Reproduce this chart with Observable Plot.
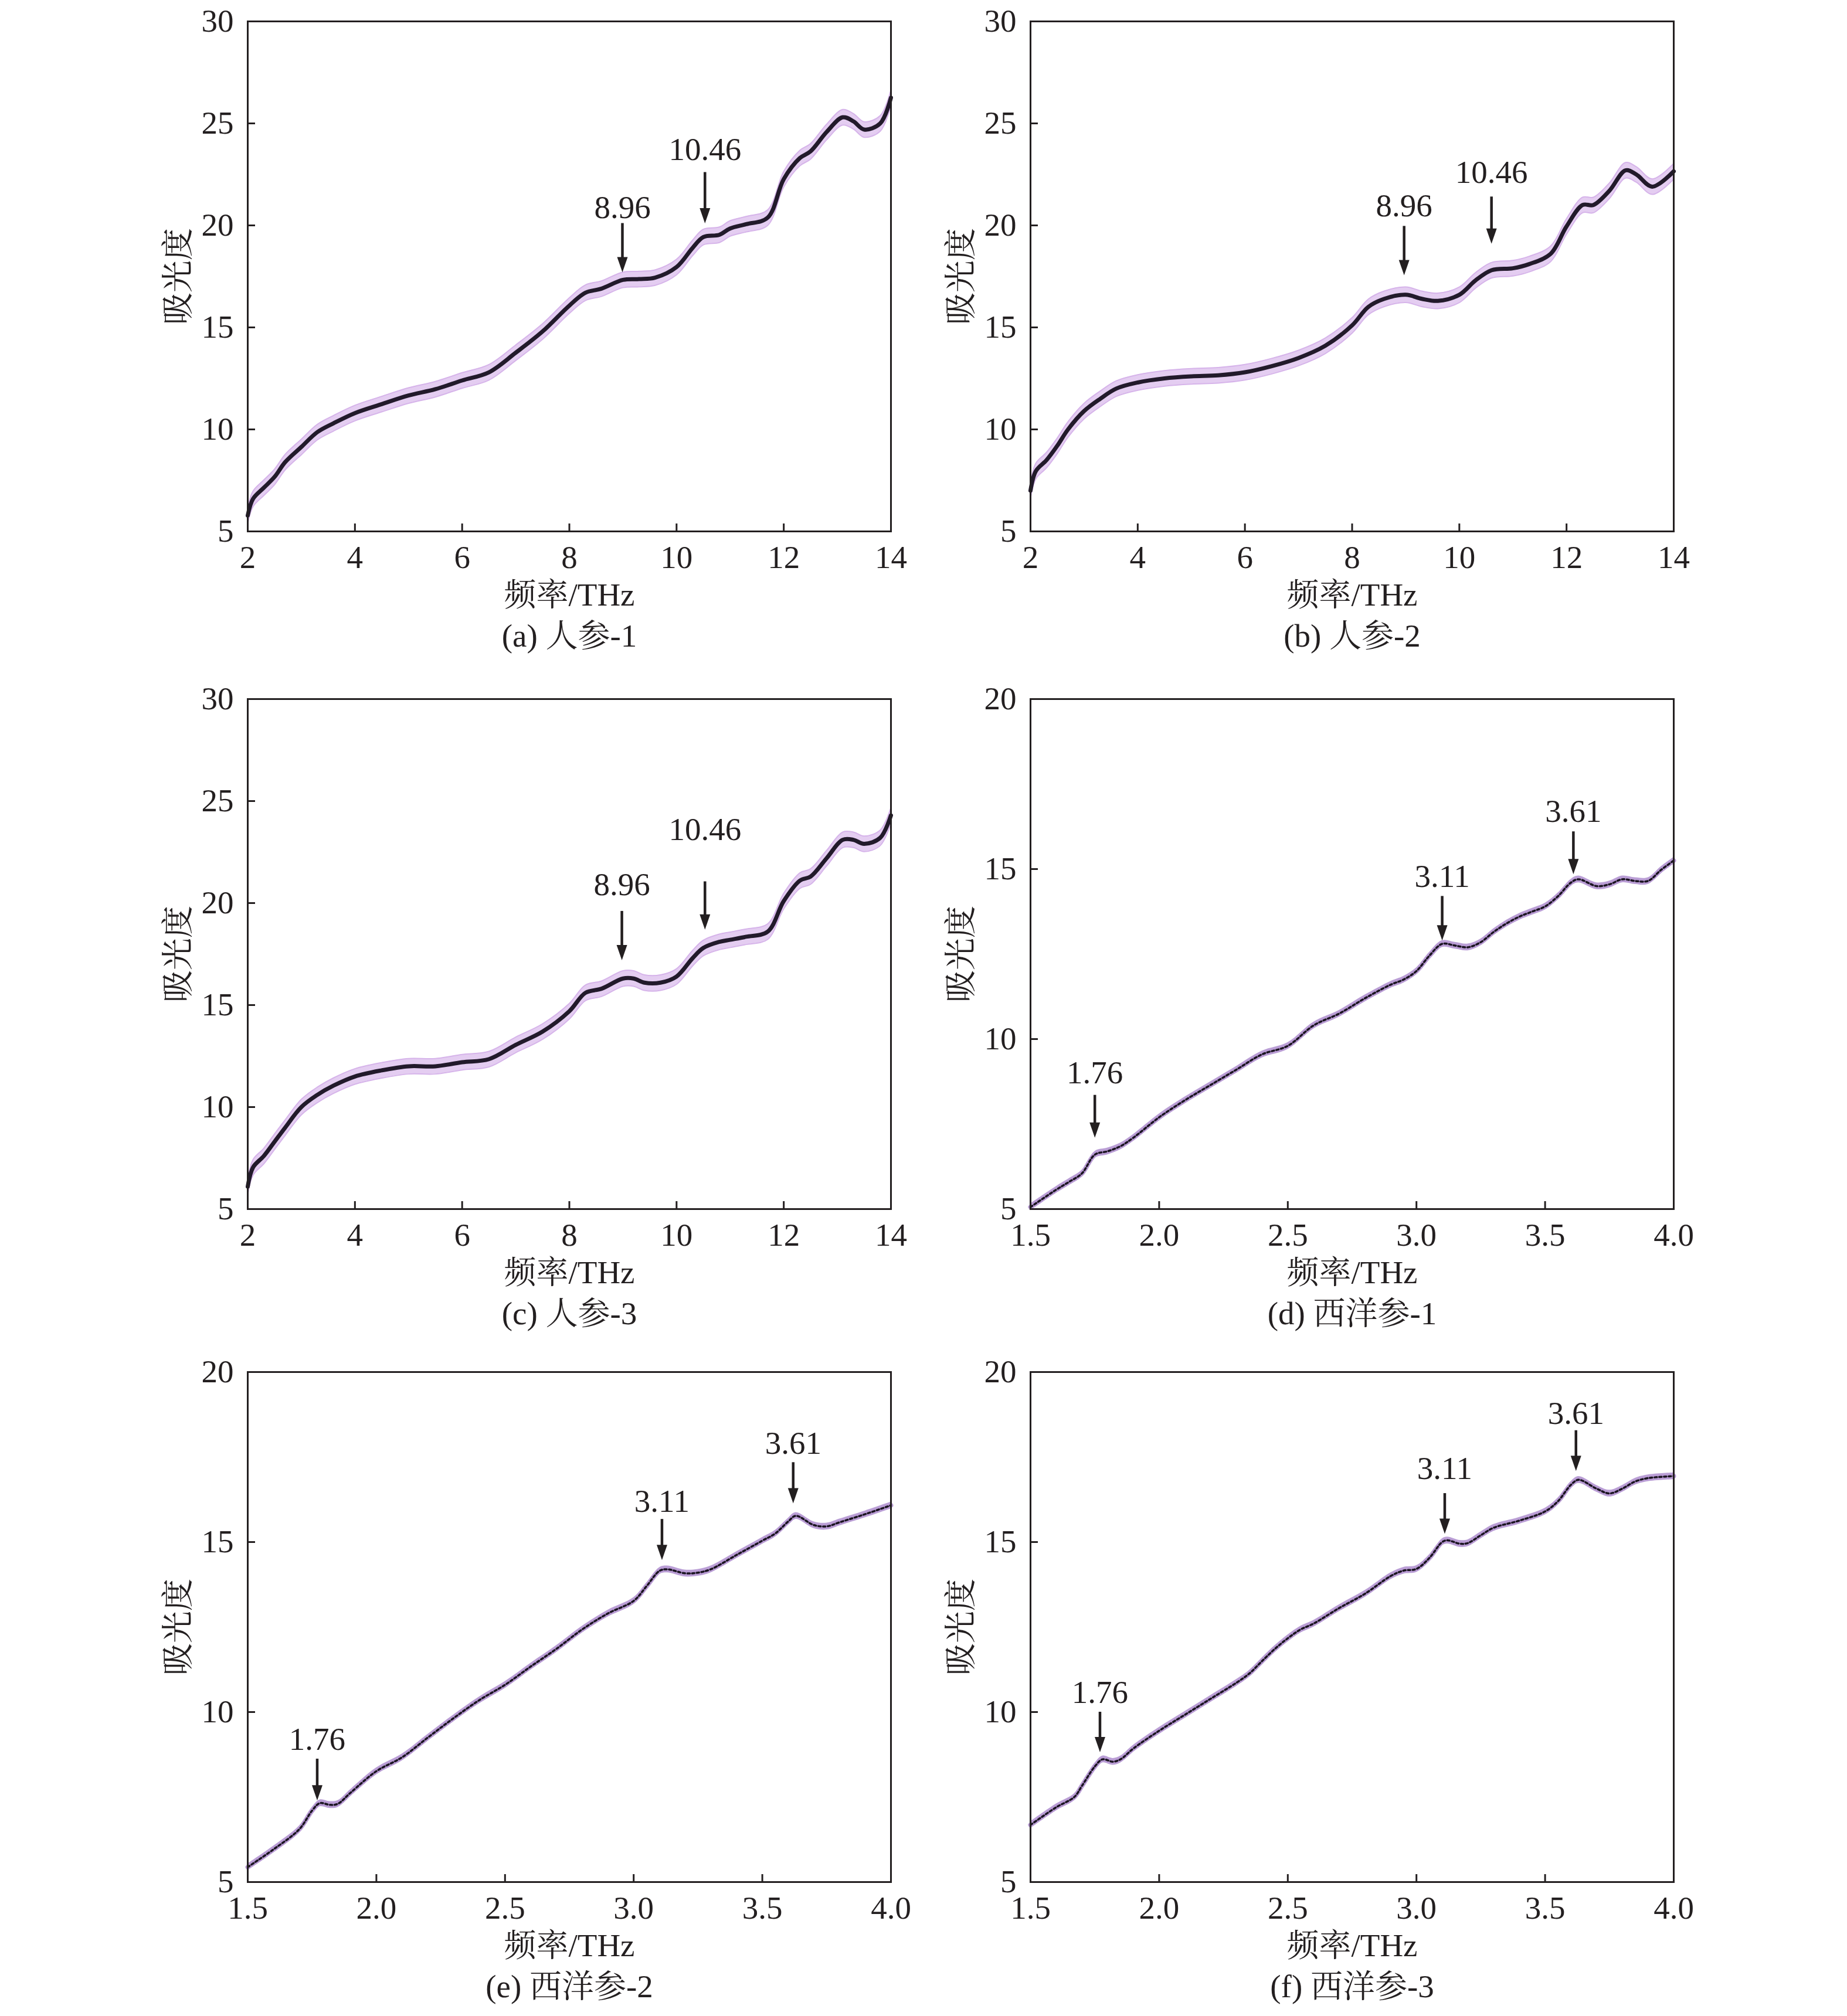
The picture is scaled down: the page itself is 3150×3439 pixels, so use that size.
<!DOCTYPE html>
<html>
<head>
<meta charset="utf-8">
<script src="https://cdn.jsdelivr.net/npm/d3@7"></script>
<script src="https://cdn.jsdelivr.net/npm/@observablehq/plot@0.6"></script>
<style>
  html, body { margin: 0; padding: 0; background: #fff; }
  body { width: 3150px; height: 3439px; position: relative; overflow: hidden; }
  .panel { position: absolute; }
</style>
</head>
<body>
<script>
// ---------------- data ----------------
const xLabel = "频率/THz";
const yLabel = "吸光度";

// (a) 人参-1
const freqA = [2,2.1,2.3,2.5,2.7,3,3.3,3.6,4,4.5,5,5.5,6,6.5,7,7.5,8,8.3,8.6,9,9.3,9.6,10,10.3,10.5,10.8,11,11.3,11.7,12,12.3,12.5,12.8,13.1,13.3,13.5,13.8,14];
const absA  = [5.78,6.6,7.14,7.67,8.4,9.14,9.87,10.3,10.8,11.24,11.66,11.97,12.4,12.8,13.76,14.8,16.07,16.7,16.9,17.33,17.37,17.44,17.96,18.9,19.43,19.54,19.85,20.06,20.38,22.27,23.3,23.63,24.58,25.3,25.1,24.7,25.0,26.26];
// (b) 人参-2
const freqB = [2,2.1,2.3,2.5,2.7,3,3.3,3.6,4,4.5,5,5.5,6,6.5,7,7.5,8,8.3,8.6,9,9.3,9.6,10,10.3,10.6,11,11.3,11.7,12,12.3,12.5,12.8,13.1,13.3,13.6,14];
const absB  = [7.0,7.96,8.5,9.2,10.0,10.9,11.5,12.0,12.3,12.5,12.6,12.65,12.8,13.1,13.5,14.1,15.1,16.0,16.4,16.6,16.4,16.3,16.6,17.3,17.8,17.9,18.1,18.6,19.95,21.0,21.0,21.7,22.7,22.5,21.9,22.65];
// (c) 人参-3
const freqC = [2,2.1,2.3,2.5,2.7,3,3.3,3.6,4,4.5,5,5.5,6,6.5,7,7.5,8,8.3,8.6,9,9.2,9.4,9.7,10,10.3,10.5,10.8,11,11.3,11.7,12,12.3,12.5,12.8,13.1,13.3,13.5,13.8,14];
const absC  = [6.1,7.05,7.6,8.3,9.0,10.0,10.6,11.05,11.5,11.8,12.0,12.0,12.2,12.35,13.05,13.7,14.7,15.6,15.8,16.3,16.3,16.1,16.1,16.4,17.3,17.8,18.1,18.2,18.35,18.6,20.1,21.1,21.3,22.2,23.1,23.1,22.9,23.2,24.3];
// (d) 西洋参-1
const freqD = [1.5,1.6,1.65,1.7,1.75,1.8,1.85,1.9,2.0,2.1,2.2,2.3,2.4,2.5,2.6,2.7,2.8,2.9,2.95,3.0,3.05,3.1,3.15,3.2,3.25,3.3,3.35,3.4,3.45,3.5,3.55,3.6,3.63,3.7,3.75,3.8,3.85,3.9,3.95,4.0];
const absD  = [5.06,5.57,5.8,6.05,6.6,6.7,6.85,7.1,7.7,8.2,8.65,9.1,9.55,9.8,10.4,10.75,11.2,11.6,11.75,12.0,12.45,12.8,12.75,12.7,12.85,13.15,13.4,13.6,13.75,13.9,14.2,14.6,14.7,14.5,14.55,14.7,14.65,14.65,14.97,15.25];
// (e) 西洋参-2
const freqE = [1.5,1.6,1.7,1.75,1.78,1.82,1.85,1.9,2.0,2.1,2.2,2.3,2.4,2.5,2.6,2.7,2.8,2.9,3.0,3.05,3.1,3.13,3.2,3.25,3.3,3.4,3.5,3.55,3.6,3.63,3.7,3.75,3.8,3.9,4.0];
const absE  = [5.44,5.96,6.55,7.1,7.32,7.27,7.3,7.63,8.26,8.67,9.25,9.82,10.35,10.8,11.34,11.86,12.43,12.9,13.27,13.7,14.15,14.2,14.08,14.1,14.2,14.62,15.04,15.25,15.6,15.77,15.5,15.46,15.58,15.82,16.08];
// (f) 西洋参-3
const freqF = [1.5,1.6,1.67,1.7,1.75,1.78,1.82,1.85,1.9,2.0,2.1,2.2,2.3,2.35,2.4,2.45,2.5,2.55,2.6,2.7,2.8,2.9,2.95,3.0,3.05,3.1,3.12,3.17,3.2,3.25,3.3,3.4,3.5,3.55,3.6,3.63,3.7,3.75,3.8,3.85,3.9,4.0];
const absF  = [6.68,7.2,7.5,7.83,8.4,8.61,8.54,8.61,8.93,9.45,9.92,10.39,10.86,11.13,11.5,11.86,12.17,12.43,12.6,13.06,13.48,14.0,14.16,14.21,14.53,15.0,15.05,14.95,14.97,15.2,15.42,15.63,15.9,16.2,16.68,16.83,16.57,16.43,16.57,16.78,16.88,16.94];

// error half-widths (absorbance units)
const errGinseng = 0.38;
const errAmerican = 0.1;

// axes
const xDomainGinseng = [2, 14];
const xTicksGinseng = [2, 4, 6, 8, 10, 12, 14];
const yDomainGinseng = [5, 30];
const yTicksGinseng = [5, 10, 15, 20, 25, 30];
const xDomainAmerican = [1.5, 4.0];
const xTicksAmerican = [1.5, 2.0, 2.5, 3.0, 3.5, 4.0];
const yDomainAmerican = [5, 20];
const yTicksAmerican = [5, 10, 15, 20];

// annotations: label, x, text y, arrow top, arrow tip
const annLabelsG = ["8.96", "10.46"];
const annXA = [8.99, 10.53], annTextA = [20.86, 23.7], annTopA = [20.1, 22.6], annTipA = [17.7, 20.1];
const annXB = [8.97, 10.6], annTextB = [20.95, 22.6], annTopB = [19.96, 21.4], annTipB = [17.56, 19.1];
const annXC = [8.98, 10.53], annTextC = [20.9, 23.6], annTopC = [19.6, 21.05], annTipC = [17.2, 18.7];
const annLabelsA = ["1.76", "3.11", "3.61"];
const annXD = [1.75, 3.10, 3.61], annTextD = [9.0, 14.77, 16.7], annTopD = [8.35, 14.2, 16.1], annTipD = [7.1, 12.9, 14.85];
const annXE = [1.77, 3.11, 3.62], annTextE = [9.2, 16.2, 17.9], annTopE = [8.62, 15.67, 17.34], annTipE = [7.4, 14.47, 16.14];
const annXF = [1.77, 3.11, 3.62], annTextF = [10.57, 17.15, 18.77], annTopF = [10.0, 16.43, 18.28], annTipF = [8.82, 15.24, 17.09];

const captions = ["(a) 人参-1", "(b) 人参-2", "(c) 人参-3", "(d) 西洋参-1", "(e) 西洋参-2", "(f) 西洋参-3"];

// ---------------- drawing ----------------
const FONT = "'Liberation Serif','Noto Serif CJK SC','Noto Sans CJK SC',serif";
const INK = "#231f20";
const FS = 55;
const FRAME_W = 1097, FRAME_H = 870;
const M = {left: 200, right: 60, top: 36, bottom: 230};
const TICK = 13;

const arrowHead = {
  draw(ctx) {
    ctx.moveTo(-9, -26);
    ctx.lineTo(9, -26);
    ctx.lineTo(0, 0);
    ctx.closePath();
  }
};

function panel(o) {
  const data = o.freq.map((f, i) => ({f, v: o.abs[i]}));
  const ann = o.labels.map((t, i) => ({t, x: o.ax[i], ty: o.at[i], y1: o.atop[i], y2: o.atip[i]}));
  const [x0, x1] = o.xDomain, [y0, y1] = o.yDomain;
  const tickY = (y1 - y0) * TICK / FRAME_H;
  const tickX = (x1 - x0) * TICK / FRAME_W;
  const marks = [];
  if (o.kind === "band") {
    marks.push(Plot.areaY(data, {x: "f", y1: d => d.v - o.err, y2: d => d.v + o.err, fill: "#e4cdf1", curve: "catmull-rom"}));
    marks.push(Plot.line(data, {x: "f", y: d => d.v + o.err, stroke: "#d6b4ea", strokeWidth: 2, curve: "catmull-rom"}));
    marks.push(Plot.line(data, {x: "f", y: d => d.v - o.err, stroke: "#d6b4ea", strokeWidth: 2, curve: "catmull-rom"}));
    marks.push(Plot.line(data, {x: "f", y: "v", stroke: "#221a2b", strokeWidth: 7, curve: "catmull-rom"}));
  } else {
    marks.push(Plot.areaY(data, {x: "f", y1: d => d.v - o.err, y2: d => d.v + o.err, fill: "#bba0d6", curve: "catmull-rom"}));
    marks.push(Plot.line(data, {x: "f", y: "v", stroke: "#b99cd4", strokeWidth: 8, curve: "catmull-rom"}));
    marks.push(Plot.line(data, {x: "f", y: "v", stroke: "#1a1420", strokeWidth: 3.5, strokeDasharray: "4,4", curve: "catmull-rom"}));
  }
  marks.push(
    Plot.ruleX(o.xTicks, {x: d => d, y1: y0, y2: y0 + tickY, stroke: INK, strokeWidth: 3}),
    Plot.ruleY(o.yTicks, {y: d => d, x1: x0, x2: x0 + tickX, stroke: INK, strokeWidth: 3}),
    Plot.frame({stroke: INK, strokeWidth: 3}),
    Plot.axisX(o.xTicks, {tickSize: 0, tickPadding: 23, tickFormat: o.xFmt, label: null, fontSize: FS, fill: INK}),
    Plot.axisY(o.yTicks, {tickSize: 0, tickPadding: 24, tickFormat: d => String(d), label: null, fontSize: FS, fill: INK}),
    Plot.text([xLabel], {text: d => d, frameAnchor: "bottom", lineAnchor: "middle", textAnchor: "middle", dy: 109, fontSize: FS, fill: INK}),
    Plot.text([yLabel], {text: d => d, frameAnchor: "left", lineAnchor: "middle", textAnchor: "middle", dx: -118, rotate: -90, fontSize: FS, fill: INK}),
    Plot.text([o.caption], {text: d => d, frameAnchor: "bottom", lineAnchor: "middle", textAnchor: "middle", dy: 179, fontSize: FS, fill: INK}),
    Plot.ruleX(ann, {x: "x", y1: "y1", y2: "y2", insetBottom: 14, stroke: INK, strokeWidth: 4.5}),
    Plot.dot(ann, {x: "x", y: "y2", symbol: arrowHead, r: 10, fill: INK, stroke: "none"}),
    Plot.text(ann, {x: "x", y: "ty", text: "t", fontSize: FS, fill: INK})
  );
  const chart = Plot.plot({
    width: M.left + FRAME_W + M.right,
    height: M.top + FRAME_H + M.bottom,
    marginLeft: M.left, marginRight: M.right, marginTop: M.top, marginBottom: M.bottom,
    x: {domain: o.xDomain},
    y: {domain: o.yDomain},
    style: {fontFamily: FONT, fontSize: FS + "px", color: INK, background: "transparent", overflow: "visible"},
    marks
  });
  const div = document.createElement("div");
  div.className = "panel";
  div.style.left = (o.frameLeft - M.left) + "px";
  div.style.top = (o.frameTop - M.top) + "px";
  div.appendChild(chart);
  document.body.appendChild(div);
}

const fmtInt = d => String(d);
const fmt1 = d3.format(".1f");
const colLeft = [422, 1757];
const rowTop = [36, 1192, 2340];

const G = {kind: "band", err: errGinseng, xDomain: xDomainGinseng, xTicks: xTicksGinseng, xFmt: fmtInt, yDomain: yDomainGinseng, yTicks: yTicksGinseng, labels: annLabelsG};
const A = {kind: "thin", err: errAmerican, xDomain: xDomainAmerican, xTicks: xTicksAmerican, xFmt: fmt1, yDomain: yDomainAmerican, yTicks: yTicksAmerican, labels: annLabelsA};

panel({...G, freq: freqA, abs: absA, ax: annXA, at: annTextA, atop: annTopA, atip: annTipA, caption: captions[0], frameLeft: colLeft[0], frameTop: rowTop[0]});
panel({...G, freq: freqB, abs: absB, ax: annXB, at: annTextB, atop: annTopB, atip: annTipB, caption: captions[1], frameLeft: colLeft[1], frameTop: rowTop[0]});
panel({...G, freq: freqC, abs: absC, ax: annXC, at: annTextC, atop: annTopC, atip: annTipC, caption: captions[2], frameLeft: colLeft[0], frameTop: rowTop[1]});
panel({...A, freq: freqD, abs: absD, ax: annXD, at: annTextD, atop: annTopD, atip: annTipD, caption: captions[3], frameLeft: colLeft[1], frameTop: rowTop[1]});
panel({...A, freq: freqE, abs: absE, ax: annXE, at: annTextE, atop: annTopE, atip: annTipE, caption: captions[4], frameLeft: colLeft[0], frameTop: rowTop[2]});
panel({...A, freq: freqF, abs: absF, ax: annXF, at: annTextF, atop: annTopF, atip: annTipF, caption: captions[5], frameLeft: colLeft[1], frameTop: rowTop[2]});
</script>
</body>
</html>
